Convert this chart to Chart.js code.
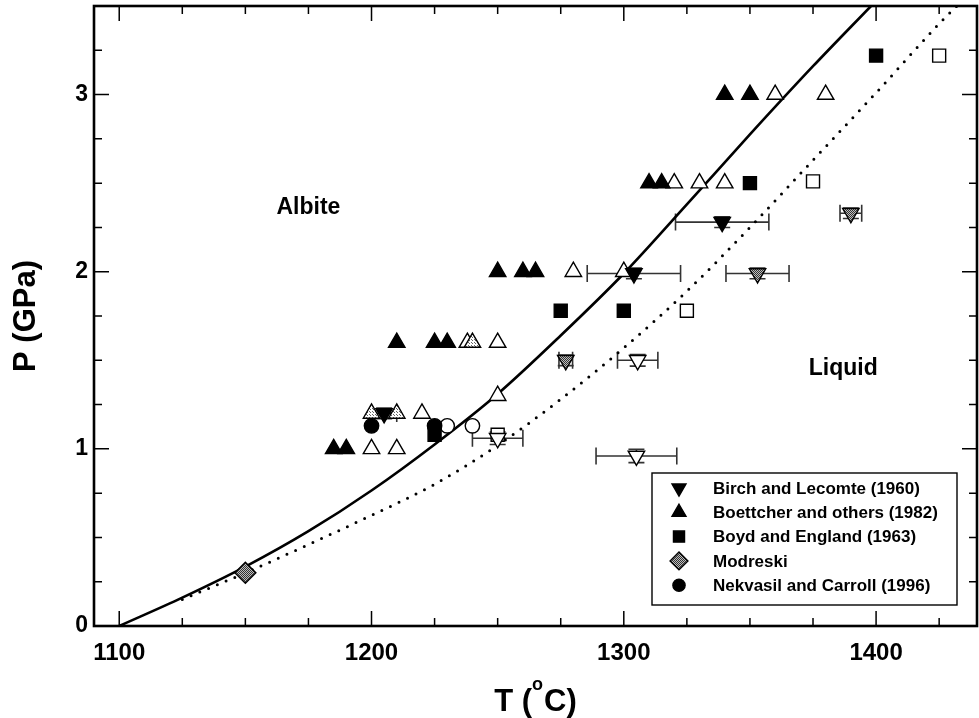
<!DOCTYPE html>
<html>
<head>
<meta charset="utf-8">
<title>Albite melting curve</title>
<script src="https://cdn.jsdelivr.net/npm/chart.js@4.4.1/dist/chart.umd.min.js"></script>
<style>
  html, body { margin: 0; padding: 0; background: #fff; }
  #wrap { width: 979px; height: 718px; }
</style>
</head>
<body>
<div id="wrap"><canvas id="meltChart" width="979" height="718"></canvas></div>
<script>
// experiments: temperature (°C), pressure (GPa), and T / P uncertainty
const birchT = [1205, 1304, 1339];
const birchP = [1.20, 1.99, 2.28];
const birchTErr = [5, 18.5, 18.5];
const birchPErr = [0.03, 0.03, 0.03];

const birchPartT = [1277, 1353, 1390];
const birchPartP = [1.50, 1.99, 2.33];
const birchPartTErr = [2.7, 12.5, 4.3];
const birchPartPErr = [0.03, 0.03, 0.03];

const birchOpenT = [1250, 1305.5, 1305];
const birchOpenP = [1.06, 1.50, 0.96];
const birchOpenTErr = [10, 8, 16];
const birchOpenPErr = [0.035, 0.033, 0.038];

const boettT = [1185, 1190, 1210, 1225, 1230, 1250, 1260, 1265, 1310, 1315, 1340, 1350];
const boettP = [1.0, 1.0, 1.6, 1.6, 1.6, 2.0, 2.0, 2.0, 2.5, 2.5, 3.0, 3.0];
const boettPartT = [1200, 1210, 1240];
const boettPartP = [1.2, 1.2, 1.6];
const boettOpenT = [1200, 1210, 1220, 1250, 1238, 1250, 1280, 1300, 1320, 1330, 1340, 1360, 1380];
const boettOpenP = [1.0, 1.0, 1.2, 1.3, 1.6, 1.6, 2.0, 2.0, 2.5, 2.5, 2.5, 3.0, 3.0];

const boydT = [1225, 1275, 1300, 1350, 1400];
const boydP = [1.08, 1.78, 1.78, 2.5, 3.22];
const boydOpenT = [1250, 1325, 1375, 1425];
const boydOpenP = [1.08, 1.78, 2.51, 3.22];

const modreskiT = [1150];
const modreskiP = [0.30];

const nekT = [1200, 1225];
const nekP = [1.13, 1.13];
const nekOpenT = [1230, 1240];
const nekOpenP = [1.13, 1.13];

// melting curves
const solidT = [1100, 1125, 1150, 1175, 1200, 1225, 1250, 1275, 1300, 1325, 1350, 1375, 1398];
const solidP = [0, 0.16, 0.335, 0.535, 0.765, 1.025, 1.31, 1.64, 1.99, 2.38, 2.775, 3.16, 3.5];
const dotT = [1125, 1150, 1175, 1200, 1225, 1250, 1275, 1300, 1325, 1350, 1375, 1400, 1425, 1432];
const dotP = [0.15, 0.30, 0.46, 0.625, 0.80, 1.02, 1.28, 1.57, 1.89, 2.25, 2.63, 3.01, 3.40, 3.5];

const xTickVals = [1100, 1200, 1300, 1400];
const yTickVals = [0, 1, 2, 3];

const regionNames = ['Albite', 'Liquid'];
const regionT = [1175, 1387];
const regionP = [2.36, 1.455];

const legendNames = [
  'Birch and Lecomte (1960)',
  'Boettcher and others (1982)',
  'Boyd and England (1963)',
  'Modreski',
  'Nekvasil and Carroll (1996)'
];

const FONT = "'Liberation Sans', Arial, Helvetica, sans-serif";

function pts(xs, ys) {
  return xs.map((x, i) => ({ x: x, y: ys[i] }));
}

function stipple(bg, dot, size) {
  const c = document.createElement('canvas');
  c.width = c.height = size;
  const g = c.getContext('2d');
  g.fillStyle = bg;
  g.fillRect(0, 0, size, size);
  g.fillStyle = dot;
  g.fillRect(0, 0, 1, 1);
  if (size > 2) g.fillRect(Math.floor(size / 2), Math.floor(size / 2), 1, 1);
  else g.fillRect(1, 1, 1, 1);
  return g.createPattern(c, 'repeat');
}

const lightFill = stipple('#ffffff', '#666666', 3);
const darkFill = stipple('#bdbdbd', '#333333', 2);

function marker(label, data, style, fill, extra) {
  return Object.assign({
    label: label,
    data: data,
    showLine: false,
    pointStyle: style.shape,
    pointRadius: style.r,
    pointHoverRadius: style.r,
    pointRotation: style.rot || 0,
    pointBackgroundColor: fill,
    pointBorderColor: '#000',
    pointBorderWidth: 1.4,
    order: 1
  }, extra || {});
}

const DOWN = { shape: 'triangle', r: 9.5, rot: 180 };
const UP = { shape: 'triangle', r: 9.5 };
const SQUARE = { shape: 'rect', r: 9.2 };
const DIAMOND = { shape: 'rectRot', r: 10.5 };
const CIRCLE = { shape: 'circle', r: 7.2 };

const datasets = [
  marker(legendNames[0], pts(birchT, birchP), DOWN, '#000', { tErr: birchTErr, pErr: birchPErr, legendIdx: 0 }),
  marker('birch-partial', pts(birchPartT, birchPartP), DOWN, darkFill, { tErr: birchPartTErr, pErr: birchPartPErr }),
  marker('birch-open', pts(birchOpenT, birchOpenP), DOWN, '#fff', { tErr: birchOpenTErr, pErr: birchOpenPErr }),
  marker(legendNames[1], pts(boettT, boettP), UP, '#000', { legendIdx: 1 }),
  marker('boettcher-partial', pts(boettPartT, boettPartP), UP, lightFill),
  marker('boettcher-open', pts(boettOpenT, boettOpenP), UP, '#fff'),
  marker(legendNames[2], pts(boydT, boydP), SQUARE, '#000', { legendIdx: 2 }),
  marker('boyd-open', pts(boydOpenT, boydOpenP), SQUARE, '#fff'),
  marker(legendNames[3], pts(modreskiT, modreskiP), DIAMOND, darkFill, { legendIdx: 3 }),
  marker(legendNames[4], pts(nekT, nekP), CIRCLE, '#000', { legendIdx: 4 }),
  marker('nekvasil-open', pts(nekOpenT, nekOpenP), CIRCLE, '#fff'),
  {
    label: 'solidus',
    data: pts(solidT, solidP),
    showLine: true,
    borderColor: '#000',
    borderWidth: 2.6,
    pointRadius: 0,
    cubicInterpolationMode: 'monotone',
    order: 10
  },
  {
    label: 'liquidus',
    data: pts(dotT, dotP),
    showLine: true,
    borderColor: '#000',
    borderWidth: 3,
    borderDash: [0, 9.5],
    borderCapStyle: 'round',
    pointRadius: 0,
    cubicInterpolationMode: 'monotone',
    order: 10
  }
];

// error bars, drawn under the markers
const errorBars = {
  id: 'errorBars',
  beforeDatasetsDraw(chart) {
    const ctx = chart.ctx;
    const xs = chart.scales.x, ys = chart.scales.y;
    ctx.save();
    ctx.strokeStyle = '#333';
    ctx.lineWidth = 1.6;
    chart.data.datasets.forEach(ds => {
      if (!ds.tErr) return;
      ds.data.forEach((p, i) => {
        const x1 = xs.getPixelForValue(p.x - ds.tErr[i]);
        const x2 = xs.getPixelForValue(p.x + ds.tErr[i]);
        const y = ys.getPixelForValue(p.y);
        ctx.beginPath();
        ctx.moveTo(x1, y); ctx.lineTo(x2, y);
        ctx.moveTo(x1, y - 8.5); ctx.lineTo(x1, y + 8.5);
        ctx.moveTo(x2, y - 8.5); ctx.lineTo(x2, y + 8.5);
        if (ds.pErr) {
          const x = xs.getPixelForValue(p.x);
          const ya = ys.getPixelForValue(p.y + ds.pErr[i]);
          const yb = ys.getPixelForValue(p.y - ds.pErr[i]);
          ctx.moveTo(x, ya); ctx.lineTo(x, yb);
          ctx.moveTo(x - 8, ya); ctx.lineTo(x + 8, ya);
          ctx.moveTo(x - 8, yb); ctx.lineTo(x + 8, yb);
        }
        ctx.stroke();
      });
    });
    ctx.restore();
  }
};

function drawMarker(ctx, ds, x, y) {
  ctx.fillStyle = ds.pointBackgroundColor;
  ctx.strokeStyle = ds.pointBorderColor;
  ctx.lineWidth = ds.pointBorderWidth;
  Chart.helpers.drawPoint(ctx, {
    pointStyle: ds.pointStyle,
    radius: ds.pointRadius,
    rotation: ds.pointRotation,
    borderWidth: ds.pointBorderWidth
  }, x, y);
}

// frame, inward ticks, axis titles, region names and key
const decorations = {
  id: 'decorations',
  afterDraw(chart) {
    const ctx = chart.ctx;
    const a = chart.chartArea;
    const xs = chart.scales.x, ys = chart.scales.y;
    ctx.save();

    // inward tick marks on all four sides
    ctx.strokeStyle = '#000';
    ctx.lineWidth = 1.5;
    ctx.beginPath();
    for (let t = xTickVals[0]; t <= xs.max; t += 25) {
      const len = xTickVals.includes(t) ? 15 : 8;
      const x = xs.getPixelForValue(t);
      ctx.moveTo(x, a.bottom); ctx.lineTo(x, a.bottom - len);
      ctx.moveTo(x, a.top); ctx.lineTo(x, a.top + len);
    }
    for (let k = 0; k * 0.25 <= ys.max; k++) {
      const v = k * 0.25;
      const len = yTickVals.includes(v) ? 15 : 8;
      const y = ys.getPixelForValue(v);
      ctx.moveTo(a.left, y); ctx.lineTo(a.left + len, y);
      ctx.moveTo(a.right, y); ctx.lineTo(a.right - len, y);
    }
    ctx.stroke();

    ctx.lineWidth = 2.6;
    ctx.strokeRect(a.left, a.top, a.right - a.left, a.bottom - a.top);

    // region names
    ctx.fillStyle = '#000';
    ctx.font = 'bold 23px ' + FONT;
    ctx.textAlign = 'center';
    ctx.textBaseline = 'middle';
    regionNames.forEach((name, i) => {
      ctx.fillText(name, xs.getPixelForValue(regionT[i]), ys.getPixelForValue(regionP[i]));
    });

    // y axis title
    ctx.save();
    ctx.translate(35, (a.top + a.bottom) / 2);
    ctx.rotate(-Math.PI / 2);
    ctx.font = 'bold 31px ' + FONT;
    ctx.textAlign = 'center';
    ctx.textBaseline = 'alphabetic';
    ctx.fillText('P (GPa)', 0, 0);
    ctx.restore();

    // x axis title with superscript degree
    const big = 'bold 31px ' + FONT, small = 'bold 18px ' + FONT;
    ctx.textAlign = 'left';
    ctx.textBaseline = 'alphabetic';
    ctx.font = big;
    const w1 = ctx.measureText('T (').width;
    const w3 = ctx.measureText('C)').width;
    ctx.font = small;
    const w2 = ctx.measureText('o').width + 1;
    let tx = (a.left + a.right) / 2 - (w1 + w2 + w3) / 2;
    const base = 711;
    ctx.font = big;
    ctx.fillText('T (', tx, base);
    ctx.font = small;
    ctx.fillText('o', tx + w1, base - 21);
    ctx.font = big;
    ctx.fillText('C)', tx + w1 + w2, base);

    // key
    const box = { x: 652, y: 473, w: 305, h: 132 };
    ctx.fillStyle = '#fff';
    ctx.fillRect(box.x, box.y, box.w, box.h);
    ctx.strokeStyle = '#000';
    ctx.lineWidth = 1.4;
    ctx.strokeRect(box.x, box.y, box.w, box.h);
    ctx.font = 'bold 17px ' + FONT;
    ctx.textBaseline = 'middle';
    ctx.textAlign = 'left';
    chart.data.datasets.forEach(ds => {
      if (ds.legendIdx === undefined) return;
      const y = 488 + ds.legendIdx * 24.3;
      drawMarker(ctx, Object.assign({}, ds, { pointRadius: ds.pointRadius * 0.85 }), 679, y);
      ctx.fillStyle = '#000';
      ctx.fillText(ds.label, 713, y + 1);
    });

    ctx.restore();
  }
};

const ctx = document.getElementById('meltChart').getContext('2d');
new Chart(ctx, {
  type: 'scatter',
  data: { datasets: datasets },
  options: {
    responsive: false,
    animation: false,
    devicePixelRatio: 1,
    layout: { autoPadding: false, padding: { top: 6, right: 2, left: 0, bottom: 0 } },
    plugins: {
      legend: { display: false },
      tooltip: { enabled: false }
    },
    scales: {
      x: {
        type: 'linear',
        min: 1090,
        max: 1440,
        afterBuildTicks: s => { s.ticks = xTickVals.map(v => ({ value: v })); },
        afterFit: s => { s.height = 92; s.paddingLeft = 0; s.paddingRight = 0; },
        grid: { display: false, drawTicks: false },
        border: { display: false },
        ticks: {
          color: '#000',
          padding: 13,
          maxRotation: 0,
          autoSkip: false,
          font: { family: FONT, size: 24, weight: 'bold' },
          callback: v => String(v)
        }
      },
      y: {
        type: 'linear',
        min: 0,
        max: 3.5,
        afterBuildTicks: s => { s.ticks = yTickVals.map(v => ({ value: v })); },
        afterFit: s => { s.width = 94; s.paddingTop = 0; s.paddingBottom = 0; },
        grid: { display: false, drawTicks: false },
        border: { display: false },
        ticks: {
          color: '#000',
          padding: 6,
          autoSkip: false,
          font: { family: FONT, size: 23, weight: 'bold' },
          callback: v => String(v)
        }
      }
    }
  },
  plugins: [errorBars, decorations]
});
</script>
</body>
</html>
